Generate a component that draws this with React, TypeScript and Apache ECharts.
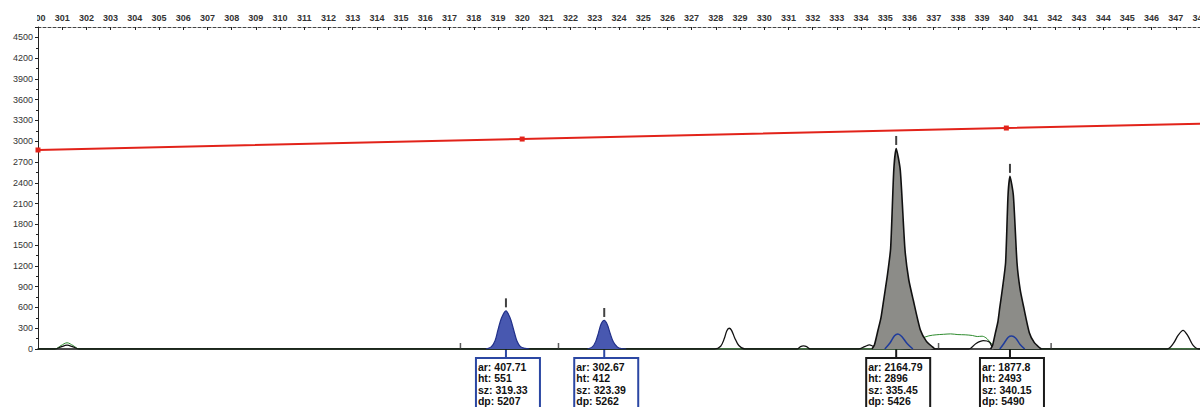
import React, { useEffect, useRef } from "react";
import * as echarts from "echarts";

// Axes
const xMin = 300;
const xMax = 348;
const yMax = 4650;
const yStep = 300;

// Red sizing-standard line
const redX = [300, 320, 340, 348];
const redY = [2874, 3032, 3191, 3254];
const redMarkers = [true, true, true, false];

// Black trace (unfilled peaks along the baseline)
const blackX = [300, 300.7, 300.95, 301.2, 301.45, 301.7, 327.95, 328.2, 328.35, 328.45, 328.55, 328.65, 328.78, 328.95, 329.2, 331.35, 331.5, 331.62, 331.75, 331.9, 333.9, 334.15, 334.35, 334.5, 336.0, 336.25, 336.45, 336.7, 336.95, 338.45, 338.75, 339.05, 339.3, 339.5, 346.65, 346.9, 347.1, 347.3, 347.5, 347.7, 347.95, 348];
const blackY = [0, 0, 30, 55, 30, 0, 0, 40, 150, 260, 300, 270, 160, 50, 0, 0, 35, 45, 35, 0, 0, 35, 60, 40, 0, 110, 150, 60, 0, 0, 80, 120, 100, 0, 0, 80, 200, 270, 190, 60, 0, 0];

// Green trace
const greenX = [300, 300.7, 300.95, 301.2, 301.45, 301.7, 336.0, 336.2, 336.5, 336.8, 337.1, 337.4, 337.7, 338.0, 338.3, 338.6, 338.8, 339.0, 339.2, 339.4, 339.6, 348];
const greenY = [0, 0, 50, 90, 50, 0, 0, 60, 150, 190, 205, 212, 218, 208, 205, 195, 180, 185, 150, 70, 0, 0];

// Gray (called) peaks
const gray1X = [334.45, 334.55, 334.7, 334.82, 334.93, 335.08, 335.22, 335.35, 335.45, 335.62, 335.81, 335.97, 336.16, 336.45, 336.7, 336.95, 337.05];
const gray1Y = [0, 58, 274, 450, 700, 1050, 1450, 2580, 2896, 2580, 1450, 1000, 700, 274, 110, 30, 0];
const gray2X = [339.35, 339.43, 339.55, 339.65, 339.73, 339.85, 339.97, 340.07, 340.15, 340.29, 340.44, 340.57, 340.72, 340.95, 341.15, 341.35, 341.45];
const gray2Y = [0, 50, 236, 390, 600, 900, 1250, 2220, 2493, 2220, 1250, 860, 600, 236, 95, 25, 0];

// Blue (called) filled peaks
const blue1X = [318.5, 318.72, 318.88, 319.0, 319.15, 319.33, 319.5, 319.65, 319.78, 319.93, 320.12, 320.3];
const blue1Y = [0, 30, 120, 275, 450, 551, 450, 275, 120, 35, 8, 0];
const blue2X = [322.7, 322.9, 323.04, 323.15, 323.26, 323.39, 323.52, 323.64, 323.77, 323.93, 324.1, 324.3];
const blue2Y = [0, 30, 110, 230, 360, 412, 350, 220, 100, 30, 5, 0];

// Blue trace humps under the gray peaks
const blueAX = [334.98, 335.2, 335.38, 335.52, 335.68, 335.9, 336.14];
const blueAY = [0, 90, 190, 216, 180, 80, 0];
const blueBX = [339.73, 339.9, 340.08, 340.22, 340.38, 340.56, 340.76];
const blueBY = [0, 80, 170, 188, 160, 70, 0];

// Peak annotations
const peakSz = [319.33, 323.39, 335.45, 340.15];
const peakHt = [551, 412, 2896, 2493];
const peakAr = ["407.71", "302.67", "2164.79", "1877.8"];
const peakSzText = ["319.33", "323.39", "335.45", "340.15"];
const peakDp = [5207, 5262, 5426, 5490];
const peakKind = ["blue", "blue", "gray", "gray"];

// Small bin marks on the baseline
const binX = [317.45, 321.5, 337.2, 341.85];

const zip = (xs: number[], ys: number[]) => xs.map((x, i) => [x, ys[i]]);

export default function App() {
  const ref = useRef<HTMLDivElement>(null);

  useEffect(() => {
    const chart = echarts.init(ref.current!, null, { renderer: "svg" });
    const lineBase = { type: "line", xAxisIndex: 0, yAxisIndex: 0, symbol: "none", silent: true };
    const option: any = {
      animation: false,
      backgroundColor: "#ffffff",
      grid: { left: 38, right: 0, top: 27, bottom: 58, containLabel: false, outerBoundsMode: "none" },
      xAxis: [
        {
          type: "value",
          position: "top",
          min: xMin,
          max: xMax,
          interval: 1,
          axisLine: { show: true, onZero: false, lineStyle: { color: "#444", width: 1, type: [3, 2] } },
          axisTick: { show: true, inside: true, length: 3, lineStyle: { color: "#222" } },
          axisLabel: { show: true, margin: 5, fontSize: 9, fontWeight: "bold", color: "#333", fontFamily: "Arial" },
          splitLine: { show: false },
        },
        {
          type: "value",
          position: "bottom",
          min: xMin,
          max: xMax,
          axisLine: { show: true, onZero: false, lineStyle: { color: "#111", width: 1.5 } },
          axisTick: { show: false },
          axisLabel: { show: false },
          splitLine: { show: false },
        },
      ],
      yAxis: {
        type: "value",
        min: 0,
        max: yMax,
        interval: yStep,
        axisLine: { show: true, onZero: false, lineStyle: { color: "#222", width: 1 } },
        axisTick: { show: true, length: 3, lineStyle: { color: "#222" } },
        minorTick: { show: true, splitNumber: 2, length: 2, lineStyle: { color: "#222" } },
        axisLabel: {
          margin: 5,
          fontSize: 9,
          color: "#333",
          fontFamily: "Arial",
          formatter: (v: number) => (v % yStep === 0 ? String(v) : ""),
        },
        splitLine: { show: false },
      },
      series: [
        { ...lineBase, data: zip(greenX, greenY), smooth: 0.3, lineStyle: { color: "#2e8b2e", width: 1 }, z: 2 },
        { ...lineBase, data: zip(blackX, blackY), smooth: 0.3, lineStyle: { color: "#111", width: 1.3 }, z: 3 },
        { ...lineBase, data: zip(gray1X, gray1Y), smooth: 0.2, lineStyle: { color: "#111", width: 1.6 }, areaStyle: { color: "#8c8c88", opacity: 1 }, z: 4 },
        { ...lineBase, data: zip(gray2X, gray2Y), smooth: 0.2, lineStyle: { color: "#111", width: 1.6 }, areaStyle: { color: "#8c8c88", opacity: 1 }, z: 4 },
        { ...lineBase, data: zip(blue1X, blue1Y), smooth: 0.3, lineStyle: { color: "#22318a", width: 1.2 }, areaStyle: { color: "#4858b0", opacity: 1 }, z: 4 },
        { ...lineBase, data: zip(blue2X, blue2Y), smooth: 0.3, lineStyle: { color: "#22318a", width: 1.2 }, areaStyle: { color: "#4858b0", opacity: 1 }, z: 4 },
        { ...lineBase, data: zip(blueAX, blueAY), smooth: 0.3, lineStyle: { color: "#1f3c9c", width: 1.5 }, z: 5 },
        { ...lineBase, data: zip(blueBX, blueBY), smooth: 0.3, lineStyle: { color: "#1f3c9c", width: 1.5 }, z: 5 },
        {
          type: "line",
          xAxisIndex: 0,
          yAxisIndex: 0,
          silent: true,
          data: redX.map((x, i) => ({
            value: [x, redY[i]],
            symbol: redMarkers[i] ? "rect" : "none",
            symbolSize: 5,
          })),
          lineStyle: { color: "#e2231a", width: 2 },
          itemStyle: { color: "#e2231a" },
          z: 6,
        },
        {
          type: "scatter",
          xAxisIndex: 0,
          yAxisIndex: 0,
          silent: true,
          data: zip(peakSz, peakHt),
          symbol: "rect",
          symbolSize: [2, 9],
          symbolOffset: [0, -8],
          itemStyle: { color: "#111" },
          z: 7,
        },
        {
          type: "scatter",
          xAxisIndex: 0,
          yAxisIndex: 0,
          silent: true,
          data: binX.map((x) => [x, 0]),
          symbol: "rect",
          symbolSize: [1.5, 6],
          symbolOffset: [0, -3],
          itemStyle: { color: "#333" },
          z: 7,
        },
      ],
    };
    chart.setOption(option);

    const graphics: any[] = [
      { type: "rect", z: 100, shape: { x: 0, y: 4, width: 37, height: 20 }, style: { fill: "#ffffff" } },
    ];
    peakSz.forEach((sz, i) => {
      const p = chart.convertToPixel({ seriesIndex: 0 }, [sz, 0]) as number[];
      const px = p[0];
      const py = p[1];
      const col = peakKind[i] === "blue" ? "#2b47a3" : "#1a1a1a";
      const txt = [`ar: ${peakAr[i]}`, `ht: ${peakHt[i]}`, `sz: ${peakSzText[i]}`, `dp: ${peakDp[i]}`].join("\n");
      graphics.push({
        type: "group",
        z: 50,
        children: [
          { type: "line", shape: { x1: px, y1: py, x2: px, y2: py + 9 }, style: { stroke: col, lineWidth: 2 } },
          { type: "rect", shape: { x: px - 30, y: py + 9, width: 64, height: 70 }, style: { fill: "#ffffff", stroke: col, lineWidth: 2 } },
          {
            type: "text",
            x: px - 28,
            y: py + 12,
            style: { text: txt, font: "bold 10.5px Arial", fill: "#111", lineHeight: 11.5, verticalAlign: "top", align: "left" },
          },
        ],
      });
    });
    chart.setOption({ graphic: graphics });

    return () => chart.dispose();
  }, []);

  return (
    <div
      ref={ref}
      style={{ position: "absolute", left: 0, top: 0, width: 1200, height: 407, background: "#fff" }}
    />
  );
}
